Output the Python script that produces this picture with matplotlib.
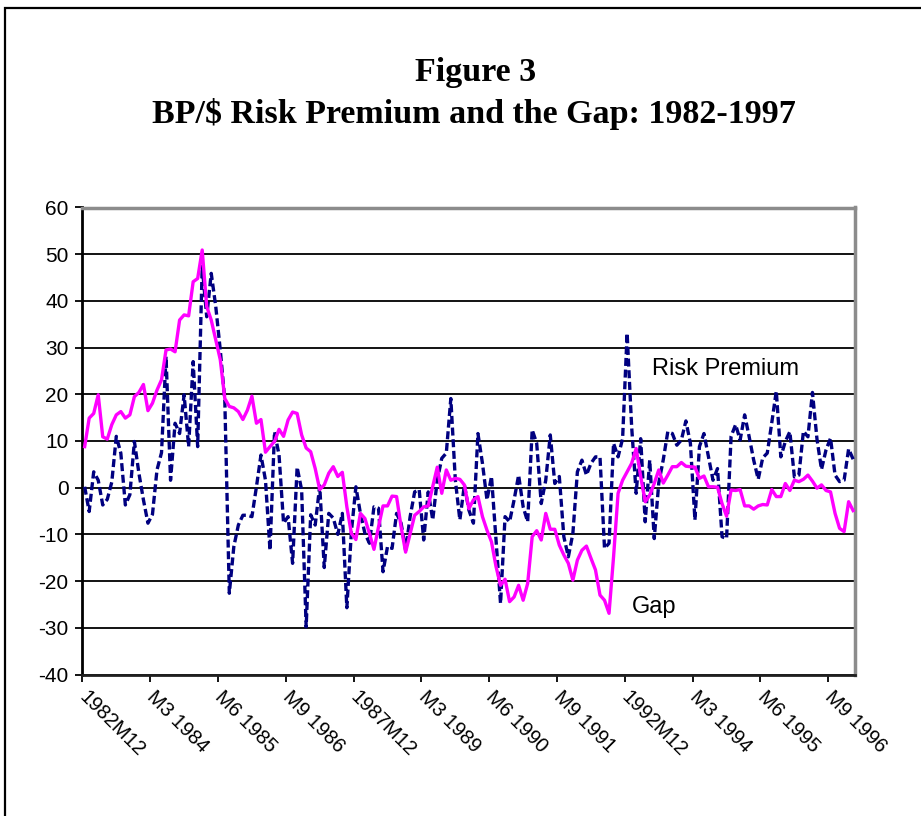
import numpy as np
import matplotlib
matplotlib.use("Agg")
import matplotlib.pyplot as plt
from matplotlib.patches import Rectangle

plt.rcParams['axes.unicode_minus'] = False

# monthly data, 1982M12 .. 1997M2
risk_premium = [
    0.2, -5.1, 3.4, 1.6, -3.7, -2.5, 1.2, 11.0, 7.4, -3.7,
    -1.5, 9.9, 3.1, -2.6, -7.6, -5.7, 3.8, 7.5, 28.1, 1.6,
    13.8, 11.6, 19.9, 8.8, 27.0, 8.8, 47.4, 36.6, 45.9, 38.8,
    29.5, 18.8, -22.6, -12.6, -8.0, -5.9, -5.9, -6.2, 0.2, 7.0,
    1.6, -13.4, 12.0, 7.0, -7.6, -6.2, -16.2, 4.4, -0.5, -29.8,
    -5.8, -8.0, 0.4, -17.1, -5.5, -6.5, -10.0, -5.5, -25.7, -9.5,
    0.2, -5.5, -9.8, -11.9, -4.1, -4.4, -18.0, -12.6, -13.0, -5.5,
    -7.6, -13.4, -6.2, -0.9, -0.4, -11.2, -0.9, -6.9, 1.6, 6.3,
    7.4, 19.1, 1.6, -6.9, 0.6, -4.8, -7.6, 11.6, 5.2, -2.6,
    2.4, -11.2, -24.8, -6.2, -7.3, -2.6, 2.7, -4.1, -7.3, 12.4,
    9.5, -3.4, 1.6, 11.3, 0.9, 2.4, -10.5, -14.8, -9.8, 3.4,
    5.9, 2.7, 5.2, 6.6, 6.6, -13.0, -11.9, 9.5, 6.6, 10.5,
    33.1, 13.1, -1.2, 10.5, -7.3, 5.9, -10.9, 1.0, 6.0, 12.0,
    11.6, 9.1, 10.2, 14.3, 9.5, -6.9, 8.8, 11.6, 6.6, 1.6,
    4.1, -10.5, -10.9, 11.0, 13.5, 10.2, 15.6, 10.9, 5.9, 1.8,
    6.4, 7.4, 13.9, 20.7, 6.6, 9.9, 12.0, 2.3, 2.7, 12.1,
    10.9, 20.4, 10.4, 3.9, 8.1, 10.6, 2.7, 1.3, 1.6, 8.3,
    6.1,
]

gap = [
    8.8, 14.9, 15.9, 19.9, 10.9, 10.4, 13.5, 15.6, 16.3, 14.9,
    15.6, 19.5, 20.4, 22.1, 16.5, 18.1, 20.9, 23.1, 29.5, 29.7,
    29.1, 35.9, 37.0, 36.8, 44.1, 44.8, 50.9, 38.8, 35.9, 31.6,
    27.4, 19.1, 17.4, 17.1, 16.3, 14.6, 16.6, 19.6, 13.8, 14.6,
    7.6, 8.8, 9.9, 12.5, 11.0, 14.5, 16.2, 15.9, 11.3, 8.5,
    7.7, 4.1, -0.4, 0.6, 3.1, 4.5, 2.4, 3.3, -4.1, -9.8,
    -11.1, -5.5, -6.6, -9.8, -13.2, -8.4, -3.9, -3.9, -1.8, -1.9,
    -8.4, -13.8, -9.8, -5.9, -5.1, -4.1, -3.9, 0.2, 4.4, -1.2,
    3.8, 1.6, 2.0, 1.8, 0.6, -4.5, -2.6, -1.9, -6.2, -9.1,
    -11.6, -16.9, -20.9, -19.6, -24.4, -23.4, -20.9, -24.1, -20.5, -10.5,
    -9.2, -11.2, -5.5, -8.9, -8.9, -12.3, -14.4, -16.2, -19.8, -15.5,
    -13.4, -12.5, -15.1, -17.6, -23.0, -24.1, -26.9, -14.8, -1.2, 1.6,
    3.4, 5.2, 8.4, 2.4, -3.0, -1.6, 0.9, 3.8, 1.0, 2.7,
    4.5, 4.5, 5.4, 4.6, 4.5, 4.4, 2.0, 2.5, 0.2, 0.2,
    0.1, -3.4, -6.1, -0.5, -0.6, -0.4, -3.9, -3.9, -4.6, -3.9,
    -3.6, -3.7, -0.4, -1.9, -1.9, 0.9, -0.6, 1.6, 1.3, 1.8,
    2.7, 1.4, -0.1, 0.6, -0.6, -0.9, -5.5, -8.7, -9.4, -3.0,
    -4.9,
]

tick_labels = ['1982M12', 'M3 1984', 'M6 1985', 'M9 1986', '1987M12', 'M3 1989',
               'M6 1990', 'M9 1991', '1992M12', 'M3 1994', 'M6 1995', 'M9 1996']

n = len(gap)
x = np.arange(n) + 0.5

fig = plt.figure(figsize=(9.21, 8.16), dpi=100)
ax = fig.add_axes([82.4 / 921, 1 - 674.5 / 816, 773 / 921, 467 / 816])

ax.plot(x, risk_premium, color='#000080', lw=2.4, linestyle=(0, (2.4, 1.1)), zorder=3)
ax.plot(x, gap, color='#FF00FF', lw=2.4, zorder=4)

ax.set_xlim(0, n)
ax.set_ylim(-40, 60)
ax.set_yticks(range(-40, 61, 10))
ax.set_xticks(np.arange(0, 166, 15))
ax.set_xticklabels(tick_labels, rotation=-45, ha='left', va='center',
                   rotation_mode='anchor', fontsize=14.5, family='Liberation Sans')
for lab in ax.get_yticklabels():
    lab.set_family('Liberation Sans')
    lab.set_fontsize(15)

ax.grid(axis='y', color='black', lw=1.3)
ax.set_axisbelow(True)
ax.tick_params(direction='out', length=5, width=1.3, color='black')
ax.tick_params(axis='y', pad=5)
ax.tick_params(axis='x', pad=9)

ax.spines['left'].set_color('black')
ax.spines['left'].set_linewidth(2)
ax.spines['bottom'].set_color('#202020')
ax.spines['bottom'].set_linewidth(2)
ax.spines['top'].set_color('#8c8c8c')
ax.spines['top'].set_linewidth(2.5)
ax.spines['right'].set_color('#8c8c8c')
ax.spines['right'].set_linewidth(2.5)

ax.text(125.9, 25.4, 'Risk Premium', fontsize=17, family='Liberation Sans', va='center')
ax.text(121.6, -25.5, 'Gap', fontsize=17, family='Liberation Sans', va='center')

fig.text(476 / 921, 1 - 81 / 816, 'Figure 3', ha='center', va='baseline',
         fontsize=24.5, fontweight='bold', family='Liberation Serif')
fig.text(474 / 921, 1 - 123 / 816, 'BP/$ Risk Premium and the Gap: 1982-1997', ha='center',
         va='baseline', fontsize=24.5, fontweight='bold', family='Liberation Serif')

# outer chart frame, runs off the right and bottom edges
fig.add_artist(Rectangle((5 / 921, -0.1), 1.2, 1.1 - 8 / 816, transform=fig.transFigure,
                         fill=False, edgecolor='black', lw=1.6))

fig.savefig('out.png', dpi=100)
